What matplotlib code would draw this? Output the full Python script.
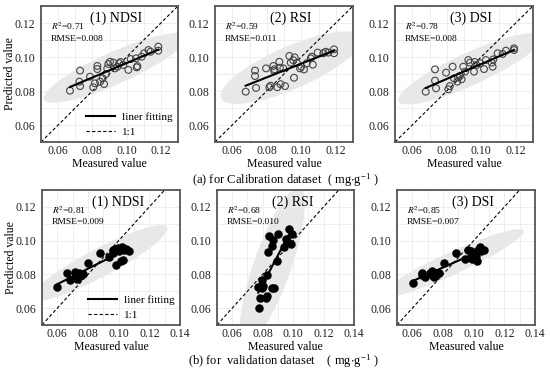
import matplotlib
matplotlib.use("Agg")
import matplotlib.pyplot as plt
import numpy as np
from matplotlib.patches import Ellipse

plt.rcParams.update({
    "font.family": "Liberation Serif",
    "mathtext.fontset": "stix",
})

# --- data ---------------------------------------------------------------
# (a) calibration dataset
cal_ndsi_x = [0.0669, 0.0728, 0.0724, 0.0728, 0.0786, 0.0805, 0.0815, 0.0829, 0.0829,
              0.0845, 0.0860, 0.0868, 0.0879, 0.0887, 0.0893, 0.0903, 0.0922, 0.0932,
              0.0946, 0.0957, 0.0965, 0.0981, 0.1010, 0.1024, 0.1055, 0.1059, 0.1063,
              0.1088, 0.1102, 0.1127, 0.1140, 0.1185, 0.1185]
cal_ndsi_y = [0.0802, 0.0920, 0.0855, 0.0829, 0.0884, 0.0822, 0.0845, 0.0947, 0.0929,
              0.0855, 0.0875, 0.0841, 0.0900, 0.0933, 0.0959, 0.0972, 0.0967, 0.0933,
              0.0943, 0.0963, 0.0971, 0.0953, 0.0924, 0.0988, 0.0992, 0.0939, 0.0946,
              0.1002, 0.1022, 0.1041, 0.1031, 0.1061, 0.1037]

cal_rsi_x = [0.0678, 0.0732, 0.0732, 0.0738, 0.0796, 0.0815, 0.0822, 0.0838, 0.0843,
             0.0845, 0.0861, 0.0873, 0.0876, 0.0880, 0.0896, 0.0906, 0.0931, 0.0939,
             0.0954, 0.0958, 0.0962, 0.0975, 0.0993, 0.1000, 0.1016, 0.1032, 0.1055,
             0.1067, 0.1061, 0.1095, 0.1128, 0.1157, 0.1190, 0.1190, 0.1141]
cal_rsi_y = [0.0796, 0.0920, 0.0888, 0.0818, 0.0933, 0.0822, 0.0831, 0.0947, 0.0918,
             0.0928, 0.0822, 0.0972, 0.0937, 0.0840, 0.0933, 0.0829, 0.1006, 0.0967,
             0.0981, 0.0878, 0.0998, 0.0965, 0.0933, 0.0943, 0.0927, 0.0963, 0.0992,
             0.0955, 0.1002, 0.1026, 0.1022, 0.1026, 0.1045, 0.1022, 0.1031]

cal_dsi_x = [0.0678, 0.0732, 0.0732, 0.0738, 0.0796, 0.0809, 0.0818, 0.0834, 0.0842,
             0.0861, 0.0866, 0.0876, 0.0886, 0.0896, 0.0906, 0.0925, 0.0935, 0.0958,
             0.0962, 0.0972, 0.0993, 0.1016, 0.1027, 0.1061, 0.1066, 0.1070, 0.1095,
             0.1124, 0.1143, 0.1190, 0.1190]
cal_dsi_y = [0.0796, 0.0927, 0.0861, 0.0816, 0.0908, 0.0810, 0.0829, 0.0943, 0.0875,
             0.0855, 0.0880, 0.0888, 0.0869, 0.0943, 0.0914, 0.0982, 0.0967, 0.0914,
             0.0971, 0.0953, 0.0963, 0.0929, 0.0982, 0.0967, 0.0943, 0.0986, 0.1022,
             0.1018, 0.1037, 0.1041, 0.1051]

# (b) validation dataset
val_ndsi_x = [0.0600, 0.0661, 0.0683, 0.0715, 0.0722, 0.0726, 0.0737, 0.0748, 0.0744,
              0.0769, 0.0802, 0.0878, 0.0939, 0.0961, 0.0965, 0.0976, 0.0983, 0.0998,
              0.1003, 0.1013, 0.1020, 0.1030, 0.1035, 0.1048, 0.1069]
val_ndsi_y = [0.0723, 0.0806, 0.0767, 0.0816, 0.0790, 0.0771, 0.0783, 0.0790, 0.0806,
              0.0802, 0.0869, 0.0929, 0.0901, 0.0944, 0.0929, 0.0948, 0.0856, 0.0954,
              0.0936, 0.0881, 0.0964, 0.0885, 0.0944, 0.0948, 0.0940]

val_rsi_x = [0.0782, 0.0778, 0.0782, 0.0794, 0.0800, 0.0794, 0.0822, 0.0826, 0.0830,
             0.0837, 0.0843, 0.0859, 0.0859, 0.0870, 0.0874, 0.0896, 0.0903, 0.0940,
             0.0953, 0.0957, 0.0975, 0.0984, 0.0991, 0.0771]
val_rsi_y = [0.0727, 0.0599, 0.0658, 0.0767, 0.0731, 0.0719, 0.0658, 0.0672, 0.0796,
             0.0934, 0.1027, 0.0968, 0.0719, 0.1004, 0.0719, 0.0881, 0.1039, 0.0960,
             0.1008, 0.0995, 0.1067, 0.0980, 0.1039, 0.0727]

val_dsi_x = [0.0602, 0.0661, 0.0661, 0.0683, 0.0715, 0.0726, 0.0733, 0.0741, 0.0748,
             0.0776, 0.0807, 0.0885, 0.0943, 0.0965, 0.0980, 0.0987, 0.1002, 0.1015,
             0.1024, 0.1041, 0.1046, 0.1067, 0.1030]
val_dsi_y = [0.0751, 0.0810, 0.0797, 0.0783, 0.0810, 0.0822, 0.0790, 0.0783, 0.0810,
             0.0810, 0.0866, 0.0925, 0.0889, 0.0944, 0.0940, 0.0889, 0.0929, 0.0909,
             0.0881, 0.0960, 0.0936, 0.0944, 0.0944]

titles = ["(1) NDSI", "(2) RSI", "(3) DSI"]
cal_r2 = ["0.71", "0.59", "0.78"]
cal_rmse = ["0.008", "0.011", "0.008"]
val_r2 = ["0.81", "0.68", "0.85"]
val_rmse = ["0.009", "0.010", "0.007"]

cal_sets = [(cal_ndsi_x, cal_ndsi_y), (cal_rsi_x, cal_rsi_y), (cal_dsi_x, cal_dsi_y)]
val_sets = [(val_ndsi_x, val_ndsi_y), (val_rsi_x, val_rsi_y), (val_dsi_x, val_dsi_y)]

W, H = 550, 380
fig = plt.figure(figsize=(W / 100, H / 100), dpi=100)


def px_axes(x0, x1, y0, y1):
    return fig.add_axes([x0 / W, 1 - y1 / H, (x1 - x0) / W, (y1 - y0) / H])


def conf_ellipse(ax, x, y, n_std=3.0):
    cov = np.cov(x, y)
    vals, vecs = np.linalg.eigh(cov)
    order = vals.argsort()[::-1]
    vals, vecs = vals[order], vecs[:, order]
    angle = np.degrees(np.arctan2(vecs[1, 0], vecs[0, 0]))
    w, h = 2 * n_std * np.sqrt(vals)
    ax.add_patch(Ellipse((np.mean(x), np.mean(y)), w, h, angle=angle,
                         facecolor="#e8e8e8", edgecolor="none", zorder=1))


def panel(ax, x, y, xmax, title, r2, rmse, filled, ylabel, legend):
    x = np.asarray(x); y = np.asarray(y)
    conf_ellipse(ax, x, y)
    if filled:
        ax.scatter(x, y, s=26, color="black", zorder=3)
    else:
        ax.scatter(x, y, s=24, facecolor="none", edgecolor="#444444", linewidth=0.8, zorder=3)
    k, b = np.polyfit(x, y, 1)
    xs = np.array([x.min(), x.max()])
    ax.plot(xs, k * xs + b, color="black", lw=1.5, zorder=4, label="liner fitting")
    ax.plot([0.05, 0.14], [0.05, 0.14], color="black", lw=0.8, ls=(0, (3, 2)),
            zorder=2, label="1:1")
    ax.set_xlim(0.05, xmax); ax.set_ylim(0.05, 0.13)
    ax.set_xticks(np.arange(0.06, xmax + 0.001, 0.02))
    ax.set_yticks([0.06, 0.08, 0.10, 0.12])
    ax.xaxis.set_major_formatter(matplotlib.ticker.FormatStrFormatter("%.2f"))
    ax.yaxis.set_major_formatter(matplotlib.ticker.FormatStrFormatter("%.2f"))
    ax.set_xticks(np.arange(0.05, xmax + 0.001, 0.01), minor=True)
    ax.set_yticks(np.arange(0.05, 0.131, 0.01), minor=True)
    ax.grid(True, which="both", color="#ebebeb", lw=0.6, zorder=0)
    ax.set_axisbelow(True)
    ax.tick_params(which="both", length=0, labelsize=8.5, colors="#222222")
    ax.tick_params(axis="x", pad=2)
    ax.tick_params(axis="y", pad=4)
    for s in ax.spines.values():
        s.set_color("#555555"); s.set_linewidth(1.3)
    ax.text(0.55, 0.91, title, transform=ax.transAxes, ha="center", va="center",
            fontsize=10, zorder=5)
    ax.text(0.07, 0.85, r"$R^2$=" + r2, transform=ax.transAxes, fontsize=6.8,
            va="center", zorder=5)
    ax.text(0.07, 0.76, "RMSE=" + rmse, transform=ax.transAxes, fontsize=6.8,
            va="center", zorder=5)
    ax.set_xlabel("Measured value", fontsize=8.5, labelpad=1)
    if ylabel:
        ax.set_ylabel("Predicted value", fontsize=8.5, labelpad=-1)
    if legend:
        ax.legend(loc="lower right", frameon=False, fontsize=8, handlelength=2.6,
                  borderaxespad=0.05, labelspacing=0.45, handletextpad=0.7)


top_pos = [(41, 178), (215, 353), (395, 533)]
bot_pos = [(42, 180), (217, 354), (397, 535)]

for i in range(3):
    ax = px_axes(top_pos[i][0], top_pos[i][1], 6, 142)
    panel(ax, *cal_sets[i], 0.13, titles[i], cal_r2[i], cal_rmse[i],
          filled=False, ylabel=(i == 0), legend=(i == 0))
    ax = px_axes(bot_pos[i][0], bot_pos[i][1], 190, 325)
    panel(ax, *val_sets[i], 0.14, titles[i], val_r2[i], val_rmse[i],
          filled=True, ylabel=(i == 0), legend=(i == 0))

fig.text(285 / W, 1 - 181 / H, r"(a) for Calibration dataset  ( mg$\cdot$g$^{\mathregular{-1}}$ )",
         ha="center", va="center", fontsize=9)
fig.text(283 / W, 1 - 362 / H, r"(b) for  validation dataset    ( mg$\cdot$g$^{\mathregular{-1}}$ )",
         ha="center", va="center", fontsize=9)

fig.savefig("out.png", dpi=100)
